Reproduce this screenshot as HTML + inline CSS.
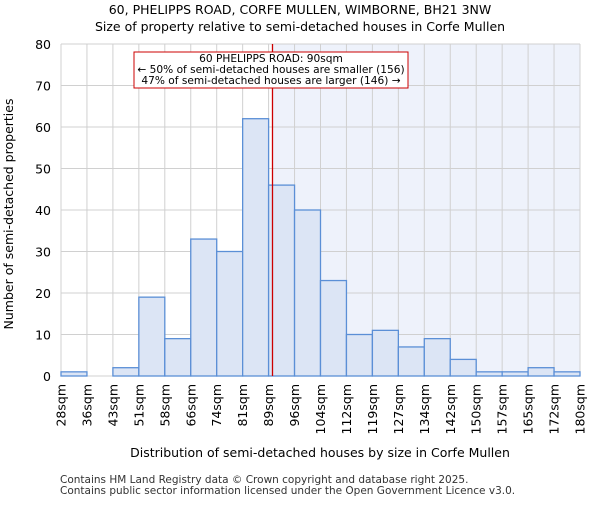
<!DOCTYPE html>
<html><head><style>body{margin:0;background:#fff}svg text{font-family:"DejaVu Sans","Liberation Sans",sans-serif}</style></head>
<body>
<svg id="c" width="600" height="500" xmlns="http://www.w3.org/2000/svg">
<text x="300" y="14" font-size="12.5" text-anchor="middle">60, PHELIPPS ROAD, CORFE MULLEN, WIMBORNE, BH21 3NW</text>
<text x="300" y="31" font-size="12.5" text-anchor="middle">Size of property relative to semi-detached houses in Corfe Mullen</text>
<g id="plot"></g>
<text x="320" y="457" font-size="12.5" text-anchor="middle">Distribution of semi-detached houses by size in Corfe Mullen</text>
<text transform="translate(13,214) rotate(-90)" font-size="12.5" text-anchor="middle">Number of semi-detached properties</text>
<text x="60" y="483" font-size="10.5" fill="#333">Contains HM Land Registry data © Crown copyright and database right 2025.</text>
<text x="60" y="494" font-size="10.5" fill="#333">Contains public sector information licensed under the Open Government Licence v3.0.</text>
</svg>
<script>
const labels=["28sqm","36sqm","43sqm","51sqm","58sqm","66sqm","74sqm","81sqm","89sqm","96sqm","104sqm","112sqm","119sqm","127sqm","134sqm","142sqm","150sqm","157sqm","165sqm","172sqm","180sqm"];
const counts=[1,0,2,19,9,33,30,62,46,40,23,10,11,7,9,4,1,1,2,1];
const yTicks=[0,10,20,30,40,50,60,70,80];
const markerBin=8.15;
const NS="http://www.w3.org/2000/svg";
const L=61,R=580,T=44,B=376,yMax=80;
const bw=(R-L)/counts.length;
const x=i=>L+i*bw, y=v=>B-(v/yMax)*(B-T);
const g=document.getElementById('plot');
function mk(t,a){const e=document.createElementNS(NS,t);for(const k in a)e.setAttribute(k,a[k]);g.appendChild(e);return e;}
let e=mk('rect',{x:x(markerBin),y:T,width:R-x(markerBin),height:B-T,fill:'#eef2fb'});


yTicks.forEach(t=>{let l=mk('line',{x1:L,x2:R,y1:y(t),y2:y(t),stroke:'#d0d0d0'});


let tx=mk('text',{x:L-10,y:y(t)+5,'font-size':12.5,'text-anchor':'end'});tx.textContent=t;

});
labels.forEach((s,i)=>{let l=mk('line',{x1:x(i),x2:x(i),y1:T,y2:B,stroke:'#d0d0d0'});


let tx=mk('text',{transform:`translate(${x(i)+4.5},384) rotate(-90)`,'font-size':12.5,'text-anchor':'end'});tx.textContent=s;

});
counts.forEach((v,i)=>{let r=mk('rect',{x:x(i),y:y(v),width:bw,height:B-y(v),fill:'#dce5f5',stroke:'#5b8fd6','stroke-width':1.3});

});
e=mk('line',{x1:x(markerBin),x2:x(markerBin),y1:T,y2:B,stroke:'#cc0000','stroke-width':1.3});


e=mk('rect',{x:134,y:52,width:274,height:36,fill:'#fff',stroke:'#cc0000'});


["60 PHELIPPS ROAD: 90sqm","← 50% of semi-detached houses are smaller (156)","47% of semi-detached houses are larger (146) →"].forEach((s,i)=>{let t=mk('text',{x:271,y:62+i*11,'font-size':10.6,'text-anchor':'middle'});t.textContent=s;

});
</script>
</body></html>
